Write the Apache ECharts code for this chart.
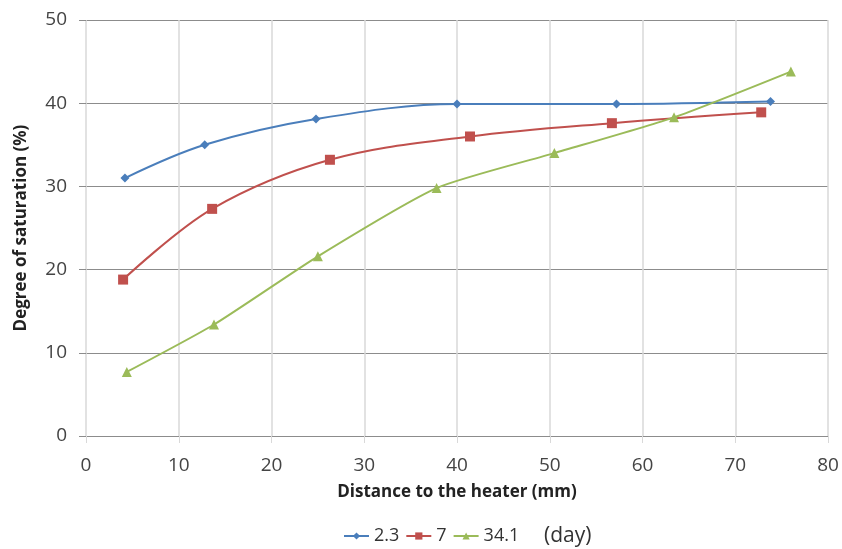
<!DOCTYPE html>
<html><head><meta charset="utf-8">
<script src="https://cdn.jsdelivr.net/npm/echarts@6/dist/echarts.min.js"></script>
<style>html,body{margin:0;padding:0;background:#fff}#c{width:842px;height:549px}</style>
</head><body><div id="c"></div>
<script>
const seriesNames = ['2.3', '7', '34.1'];
const xTicks = [0, 10, 20, 30, 40, 50, 60, 70, 80];
const yTicks = [0, 10, 20, 30, 40, 50];
const d23 = [[4.2, 31.0], [12.8, 35.0], [24.8, 38.1], [40.0, 39.9], [57.2, 39.9], [73.8, 40.2]];
const d7 = [[4.0, 18.8], [13.6, 27.3], [26.3, 33.2], [41.4, 36.0], [56.7, 37.6], [72.8, 38.9]];
const d341 = [[4.4, 7.7], [13.8, 13.4], [25.0, 21.6], [37.8, 29.8], [50.5, 34.0], [63.4, 38.3], [76.0, 43.8]];

const font = '"Open Sans", "Liberation Sans", sans-serif';
const chart = echarts.init(document.getElementById('c'));
const colors = ['#4a7ebb', '#c0504d', '#9bbb59'];
const symbols = ['diamond', 'rect', 'triangle'];
const sizes = [9, 10, 10];
const smooths = [0.35, 0.35, 0.2];
const datas = [d23, d7, d341];
chart.setOption({
  animation: false,
  grid: {left: 86, right: 14, top: 20, bottom: 113},
  legend: {
    data: seriesNames, top: 527, left: 343, padding: 0,
    itemWidth: 25, itemHeight: 9, itemGap: 6,
    textStyle: {fontFamily: font, fontSize: 18, color: '#333'}
  },
  graphic: [{type: 'text', left: 544, top: 526, style: {text: '(day)', fontFamily: font, fontSize: 21, fill: '#333'}}],
  xAxis: {
    type: 'value', min: xTicks[0], max: xTicks[xTicks.length - 1], interval: 10,
    name: 'Distance to the heater (mm)', nameLocation: 'middle', nameGap: 48,
    nameTextStyle: {fontFamily: font, fontSize: 17, fontWeight: 'bold', color: '#222'},
    axisLine: {show: false},
    axisTick: {show: true, length: 7, lineStyle: {color: '#d9d9d9'}},
    axisLabel: {fontFamily: font, fontSize: 19, color: '#444', margin: 20},
    splitLine: {show: true, lineStyle: {color: '#d9d9d9', width: 1.5}}
  },
  yAxis: {
    type: 'value', min: yTicks[0], max: yTicks[yTicks.length - 1], interval: 10,
    name: 'Degree of saturation (%)', nameLocation: 'middle', nameGap: 56,
    nameTextStyle: {fontFamily: font, fontSize: 17, fontWeight: 'bold', color: '#222'},
    axisLine: {show: false},
    axisTick: {show: true, length: 7, lineStyle: {color: '#8c8c8c'}},
    axisLabel: {fontFamily: font, fontSize: 19, color: '#444', margin: 19},
    splitLine: {show: true, lineStyle: {color: '#8c8c8c', width: 1.2}}
  },
  series: seriesNames.map((n, i) => ({
    name: n, type: 'line', data: datas[i], smooth: smooths[i],
    symbol: symbols[i], symbolSize: sizes[i], showAllSymbol: true,
    itemStyle: {color: colors[i]},
    lineStyle: {color: colors[i], width: 2}
  }))
});
</script></body></html>
